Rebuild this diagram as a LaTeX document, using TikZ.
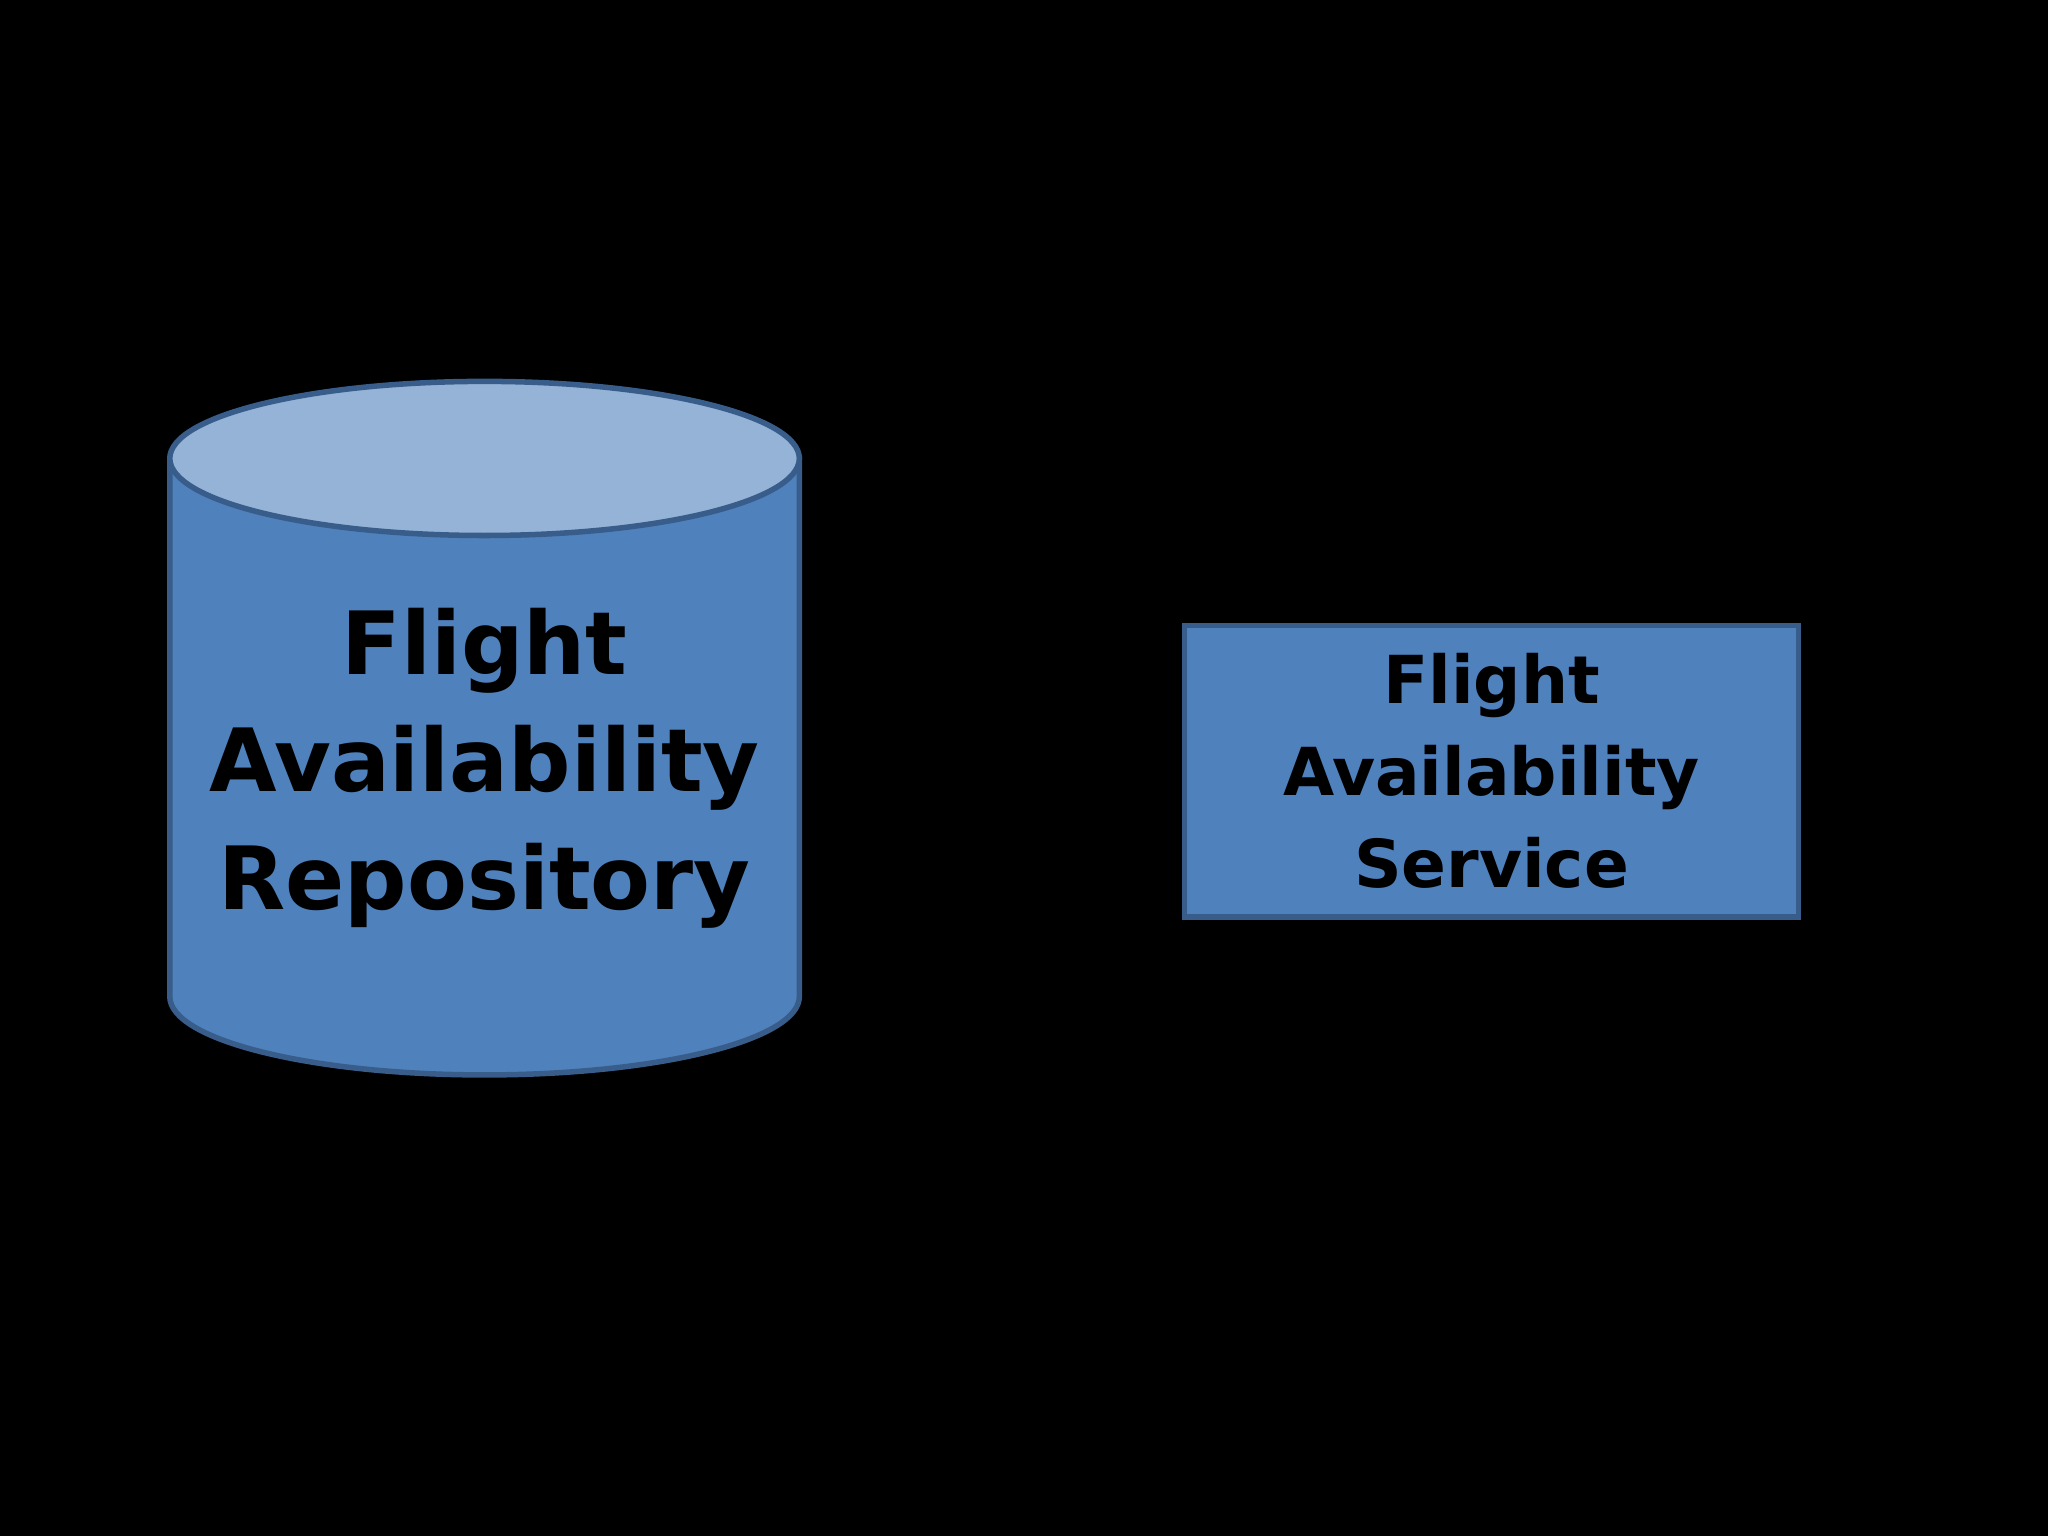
\documentclass[tikz,border=0pt]{standalone}
\usepackage{fontspec}
\setmainfont{DejaVu Sans}
\usetikzlibrary{positioning}
\definecolor{bodyblue}{HTML}{4F81BD}
\definecolor{lidblue}{HTML}{95B3D7}
\definecolor{edgeblue}{HTML}{385D8A}
\tikzset{label text/.style={align=center,text=black}}
\begin{document}
\begin{tikzpicture}[x=0.01cm,y=-0.01cm]
\fill[black] (0,0) rectangle (1568,1176);
% repository
\draw[edgeblue,line width=1.2pt,fill=bodyblue] (130,351) -- (130,763) arc[start angle=180,end angle=0,x radius=241,y radius=60] -- (612,351) -- cycle;
\draw[edgeblue,line width=1.2pt,fill=lidblue] (371,351) ellipse[x radius=241,y radius=59];
\node[label text,font=\fontsize{19}{25.6}\selectfont\bfseries] (repo) at (371,588) {Flight\\Availability\\Repository};
% service
\draw[edgeblue,line width=1.2pt,fill=bodyblue] (907,479) rectangle (1377,702);
\node[label text,font=\fontsize{14.4}{20}\selectfont\bfseries] (svc) at (1142,590) {Flight\\Availability\\Service};
\end{tikzpicture}
\end{document}
